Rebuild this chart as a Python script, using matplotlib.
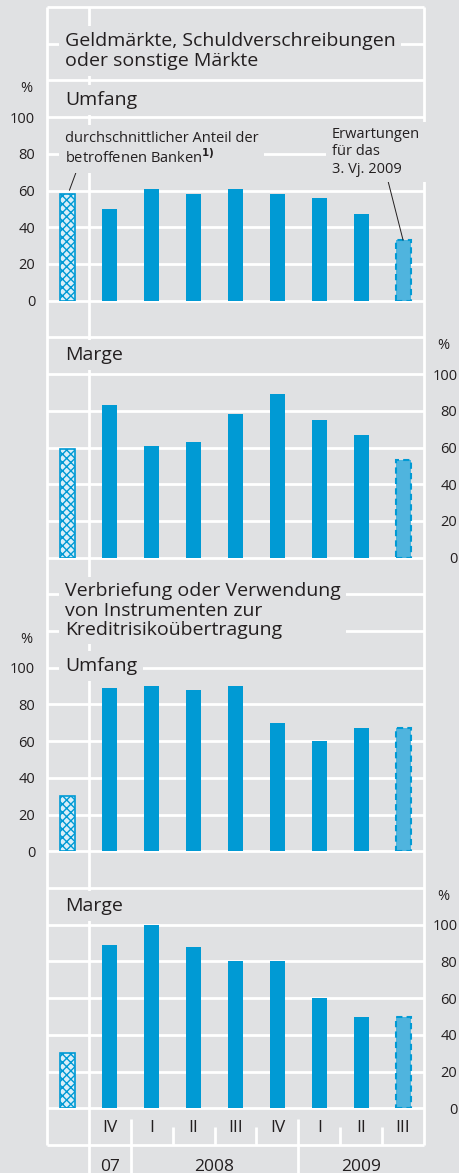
import matplotlib.pyplot as plt

# ---- data ----
quarters = ["IV", "I", "II", "III", "IV", "I", "II", "III"]
years = ["07", "2008", "2009"]

# Geldmaerkte, Schuldverschreibungen oder sonstige Maerkte
gm_umfang_avg = 58
gm_umfang = [50, 61, 58, 61, 58, 56, 47]
gm_umfang_exp = 33
gm_marge_avg = 59
gm_marge = [83, 61, 63, 78, 89, 75, 67]
gm_marge_exp = 53

# Verbriefung oder Verwendung von Instrumenten zur Kreditrisikouebertragung
vb_umfang_avg = 30
vb_umfang = [89, 90, 88, 90, 70, 60, 67]
vb_umfang_exp = 67
vb_marge_avg = 30
vb_marge = [89, 100, 88, 80, 80, 60, 50]
vb_marge_exp = 50

yticks = [0, 20, 40, 60, 80, 100]

# ---- style ----
BG = "#e0e1e3"
BLUE = "#009ad4"
BLUE_LIGHT = "#4fb4de"
HATCH_FACE = "#d9eef8"
TXT = "#231f20"
FONT = "Open Sans"

plt.rcParams["font.family"] = FONT
plt.rcParams["hatch.linewidth"] = 1.0

W, H = 459, 1173
fig = plt.figure(figsize=(W / 100, H / 100), dpi=100)
fig.patch.set_facecolor(BG)

# frame geometry in pixels
X0, X1 = 47, 424
Y0, Y1 = 7, 1145
NGRID = 31
STEP = (Y1 - Y0) / NGRID


def fx(px):
    return px / W


def fy(py):
    return 1 - py / H


# background grid axes (grid units, k = 0 at top)
bg = fig.add_axes([fx(X0), fy(Y1), fx(X1 - X0), (Y1 - Y0) / H])
bg.set_xlim(-0.5, 8.5)
bg.set_ylim(NGRID, 0)
bg.axis("off")
lw = 2.0
bg.hlines(range(NGRID + 1), -0.5, 8.5, color="white", lw=lw, clip_on=False)
bg.vlines([-0.5, 8.5], 0, NGRID, color="white", lw=lw, clip_on=False)
bg.vlines(0.5, 0, NGRID + 0.8, color="white", lw=lw, clip_on=False)
# quarter / year separators below the last panel
bg.vlines([2.5, 3.5, 4.5, 6.5, 7.5], 30.5, NGRID, color="white", lw=lw, clip_on=False)
bg.vlines([1.5, 5.5], 30.3, NGRID + 0.8, color="white", lw=lw, clip_on=False)

positions = list(range(1, len(quarters) + 1))
for xq, q in zip(positions, quarters):
    bg.text(xq, 30.55, q, ha="center", va="center", fontsize=12.5, color=TXT)
for xq, yr in zip([1, 3.5, 7], years):
    bg.text(xq, 31.6, yr, ha="center", va="center", fontsize=12.5, color=TXT,
            clip_on=False)


def panel(k_top, k_zero, avg, vals, exp, side):
    bottom = Y0 + STEP * k_zero
    top = Y0 + STEP * k_top
    ax = fig.add_axes([fx(X0), fy(bottom), fx(X1 - X0), (bottom - top) / H])
    ax.set_xlim(-0.5, 8.5)
    ax.set_ylim(0, 100)
    ax.patch.set_visible(False)
    for s in ax.spines.values():
        s.set_visible(False)
    ax.set_xticks([])
    ax.set_yticks(yticks)
    if side == "left":
        ax.tick_params(axis="y", length=0, pad=8.5, labelsize=10.5, labelcolor=TXT)
    else:
        ax.yaxis.tick_right()
        ax.tick_params(axis="y", length=0, pad=24, labelsize=10.5, labelcolor=TXT)
        for lab in ax.get_yticklabels():
            lab.set_horizontalalignment("right")
    width = 0.36
    ax.bar(0, avg, width=width, facecolor=HATCH_FACE, edgecolor=BLUE,
           hatch="xxxx", linewidth=1.2, zorder=3)
    ax.bar(positions[:-1], vals, width=width, color=BLUE, zorder=3)
    ax.bar(positions[-1], exp, width=width, facecolor=BLUE_LIGHT,
           edgecolor=BLUE, linestyle=(0, (3, 2)), linewidth=1.5, zorder=3)
    return ax


ax1 = panel(3, 8, gm_umfang_avg, gm_umfang, gm_umfang_exp, "left")
ax2 = panel(10, 15, gm_marge_avg, gm_marge, gm_marge_exp, "right")
ax3 = panel(18, 23, vb_umfang_avg, vb_umfang, vb_umfang_exp, "left")
ax4 = panel(25, 30, vb_marge_avg, vb_marge, vb_marge_exp, "right")

box = dict(facecolor=BG, edgecolor="none", pad=4)


def label(px, py, s, size, spacing=1.15):
    fig.text(fx(px), fy(py), s, fontsize=size, color=TXT,
             va="center", ha="left", bbox=box, linespacing=spacing)


label(65, 51, "Geldmärkte, Schuldverschreibungen\noder sonstige Märkte", 14)
label(65, 100, "Umfang", 14)
label(65, 149, "durchschnittlicher Anteil der\nbetroffenen Banken$^{\\mathbf{1)}}$",
      10.5, spacing=1.2)
label(332, 152, "Erwartungen\nfür das\n3. Vj. 2009", 10.5, spacing=1.2)
label(65, 355, "Marge", 14)
label(65, 610.5, "Verbriefung oder Verwendung\nvon Instrumenten zur\nKreditrisikoübertragung",
      14, spacing=1.08)
label(65, 666, "Umfang", 14)
label(65, 906, "Marge", 14)

for px, py in [(26, 88), (26, 639), (443, 345), (443, 896)]:
    fig.text(fx(px), fy(py), "%", fontsize=10.5, color=TXT, ha="center", va="center")

# pointer lines to the special bars
arrow = dict(arrowstyle="-", color=TXT, lw=0.7, shrinkA=0, shrinkB=3)
ax1.annotate("", xy=(0, gm_umfang_avg), xytext=(fx(78), fy(167)),
             textcoords="figure fraction", arrowprops=arrow)
ax1.annotate("", xy=(8, gm_umfang_exp), xytext=(fx(387), fy(177)),
             textcoords="figure fraction", arrowprops=dict(arrow, shrinkB=0))

fig.savefig("out.png", dpi=100, facecolor=BG)
